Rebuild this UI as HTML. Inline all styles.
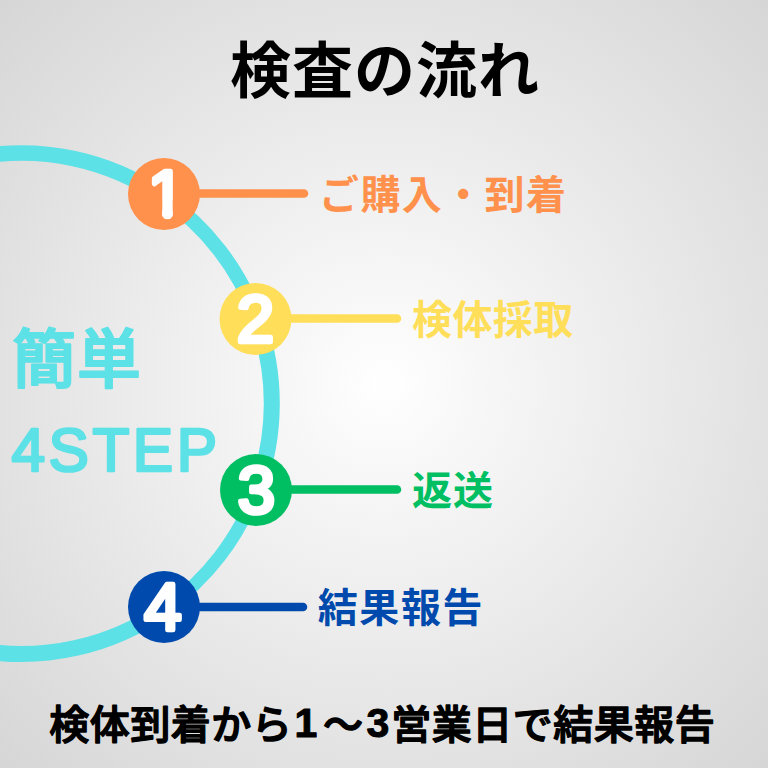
<!DOCTYPE html>
<html lang="ja">
<head>
<meta charset="utf-8">
<title>検査の流れ</title>
<style>
html,body{margin:0;padding:0;}
body{width:768px;height:768px;overflow:hidden;background:#e6e6e6;}
svg{display:block;}
text{font-family:"Liberation Sans","Noto Sans CJK JP",sans-serif;}
.jp{font-weight:700;}
</style>
</head>
<body>
<svg width="768" height="768" viewBox="0 0 768 768">
  <defs>
    <radialGradient id="bg" gradientUnits="userSpaceOnUse" cx="384" cy="384" r="543">
      <stop offset="0" stop-color="#ffffff"/>
      <stop offset="0.16" stop-color="#f8f8f8"/>
      <stop offset="1" stop-color="#d6d6d6"/>
    </radialGradient>
    <clipPath id="one">
      <rect x="130" y="160" width="60" height="40"/>
      <rect x="162.1" y="185" width="10.7" height="34.6" rx="5.3" ry="5.3"/>
    </clipPath>
  </defs>
  <rect width="768" height="768" fill="url(#bg)"/>

  <!-- big arc -->
  <g fill="none" stroke="#5ce1e6">
    <path d="M-22.20 156.81 A250.5 250.5 0 0 1 162.46 196.56" stroke-width="15.6"/>
    <path d="M162.46 196.56 A250.5 250.5 0 0 1 256.99 318.65" stroke-width="14.5"/>
    <path d="M256.99 318.65 A250.5 250.5 0 0 1 256.39 490.00" stroke-width="16"/>
    <path d="M256.39 490.00 A250.5 250.5 0 0 1 164.98 608.70" stroke-width="13"/>
    <path d="M164.98 608.70 A250.5 250.5 0 0 1 -22.20 650.19" stroke-width="16"/>
  </g>

  <!-- connector lines -->
  <g fill="none" stroke-width="8.5" stroke-linecap="round">
    <line x1="164" y1="193.5" x2="304" y2="193.5" stroke="#ff914d"/>
    <line x1="256" y1="318.5" x2="397" y2="318.5" stroke="#ffde59"/>
    <line x1="256" y1="489.5" x2="397" y2="489.5" stroke="#00bf63"/>
    <line x1="164" y1="607" x2="303" y2="607" stroke="#004aad"/>
  </g>

  <!-- step circles -->
  <circle cx="164" cy="194" r="36" fill="#ff914d"/>
  <circle cx="255.5" cy="319" r="36" fill="#ffde59"/>
  <circle cx="256" cy="490" r="36" fill="#00bf63"/>
  <circle cx="164" cy="607" r="36" fill="#004aad"/>

  <g fill="#ffffff" stroke="#ffffff" stroke-width="4.6" stroke-linejoin="round" stroke-linecap="round" font-weight="400" font-size="67" text-anchor="middle">
    <text x="166.4" y="217.3" clip-path="url(#one)">1</text>
    <text x="255.5" y="342.2">2</text>
    <text x="256.5" y="513.3">3</text>
    <text x="163" y="630.2">4</text>
  </g>

  <!-- title -->
  <text class="jp" x="384.9" y="92.8" font-size="61" letter-spacing="1" text-anchor="middle" fill="#000000">検査の流れ</text>

  <!-- left caption -->
  <g fill="#5ce1e6" stroke="#5ce1e6" stroke-linejoin="round" stroke-linecap="round">
    <text x="12" y="381.5" font-size="64" font-weight="500" stroke-width="2" letter-spacing="1">簡単</text>
    <text x="11.5" y="471" font-size="60.5" font-weight="400" stroke-width="2.6" textLength="205.5" lengthAdjust="spacing">4STEP</text>
  </g>

  <!-- step labels -->
  <text class="jp" x="319" y="209" font-size="40" letter-spacing="1.4" fill="#ff914d">ご購入・到着</text>
  <text class="jp" x="412" y="334.3" font-size="40" letter-spacing="0.4" fill="#ffde59">検体採取</text>
  <text class="jp" x="412" y="504.8" font-size="40" letter-spacing="1" fill="#00bf63">返送</text>
  <text class="jp" x="317.7" y="621.8" font-size="40" letter-spacing="1.6" fill="#004aad">結果報告</text>

  <!-- footer -->
  <g font-size="40" font-weight="500" fill="#000000" stroke="#000000" stroke-width="1.4" stroke-linejoin="round" stroke-linecap="round">
    <text x="49.3" y="739" letter-spacing="0.5">検体到着から</text>
    <text x="305.8" y="737" font-size="41" font-weight="700" stroke-width="1" text-anchor="middle">1</text>
    <text x="343" y="739" text-anchor="middle">〜</text>
    <text x="377.8" y="737" font-size="41" font-weight="700" stroke-width="1" text-anchor="middle">3</text>
    <text x="391.2" y="739" letter-spacing="0.5">営業日で結果報告</text>
  </g>
</svg>
</body>
</html>
